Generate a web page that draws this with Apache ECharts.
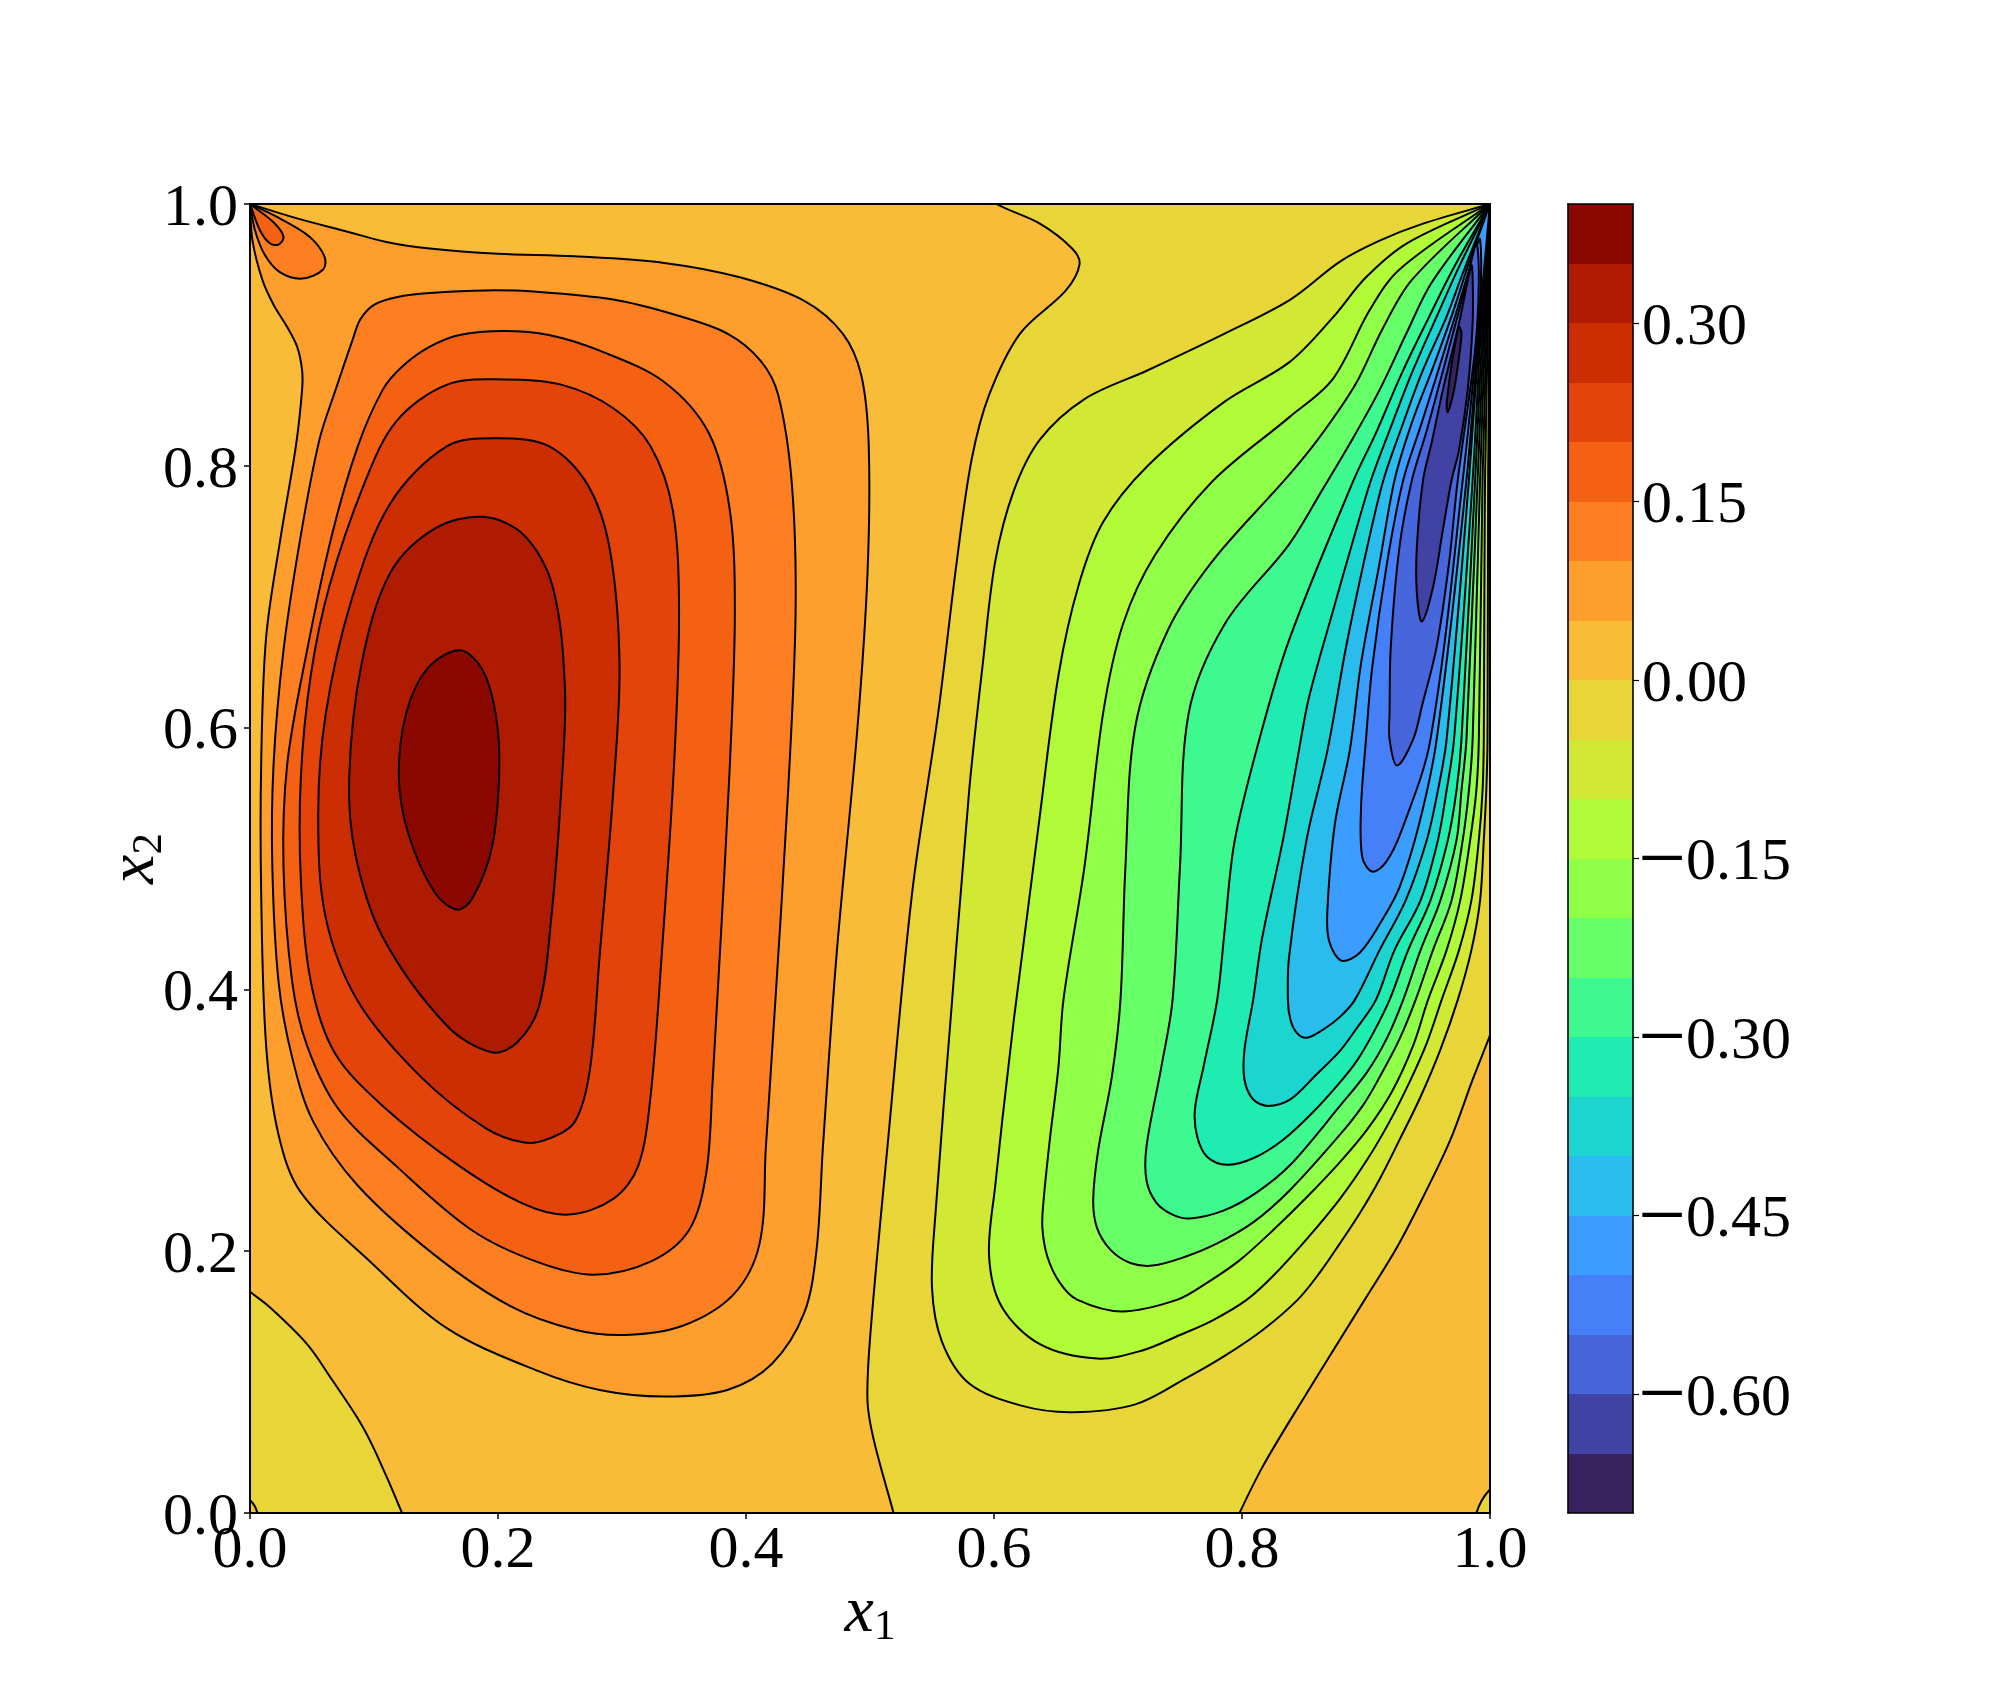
<!DOCTYPE html>
<html>
<head>
<meta charset="utf-8">
<style>html,body{margin:0;padding:0;background:#fff}#c{width:2000px;height:1700px}</style>
<script src="https://cdn.jsdelivr.net/npm/echarts@6/dist/echarts.min.js"></script>
</head>
<body>
<div id="c"></div>
<script>
// colour bar
const bandLows = [-0.70,-0.65,-0.60,-0.55,-0.50,-0.45,-0.40,-0.35,-0.30,-0.25,-0.20,-0.15,-0.10,-0.05,0.00,0.05,0.10,0.15,0.20,0.25,0.30,0.35];
const bandColors = ['#372260','#4143a4','#4866db','#4680f9','#3a9dff','#29bcec','#1cd5d0','#1eecb0','#3ef98f','#67ff67','#8fff47','#b0fa37','#d1e835','#e8d537','#f9bc38','#fe9f2d','#fe7f22','#f46113','#e4430a','#cb2e03','#ae1b00','#8b0800'];
const cbarTicks = [-0.60,-0.45,-0.30,-0.15,0.00,0.15,0.30];

// contour lines, read in data units [x1, x2]
const zeroMiddle = [[.590,1.01],[.602,1],[.637,.985],[.663,.966],[.669,.954],[.658,.934],[.621,.901],[.596,.854],[.582,.805],[.570,.727],[.555,.611],[.534,.474],[.514,.279],[.500,.133],[.498,.085],[.503,.056],[.519,0],[.524,-.018]];
const zeroBottomRight = [[.790,-.018],[.798,0],[.817,.036],[.848,.085],[.899,.163],[.925,.203],[.949,.247],[.968,.285],[.986,.331],[.998,.360],[1.012,.394]];
const zeroCornerBR = [[.986,-.01],[.989,0],[.993,.009],[.999,.017],[1.006,.022]];
const zeroBottomLeft = [[-.02,.185],[0,.169],[.015,.158],[.046,.129],[.066,.102],[.089,.069],[.102,.045],[.1226,0],[.13,-.02]];
const zeroCornerBL = [[-.004,.013],[0,.010],[.004,.005],[.006,0],[.007,-.004]];

const p005 = [[0,1],[.038,.989],[.078,.979],[.110,.971],[.145,.966],[.200,.962],[.262,.960],[.334,.955],[.395,.944],[.447,.926],[.478,.901],[.493,.869],[.499,.815],[.498,.718],[.490,.601],[.473,.426],[.462,.279],[.457,.202],[.447,.153],[.421,.114],[.385,.094],[.334,.089],[.282,.094],[.231,.109],[.159,.141],[.097,.192],[.041,.245],[.023,.289],[.013,.357],[.009,.474],[.009,.572],[.013,.669],[.025,.747],[.037,.815],[.042,.858],[.042,.873],[.038,.891],[.030,.906],[.019,.923],[.010,.942],[.002,.972],[0,1]];
const p010Lobe = [[0,1],[.024,.989],[.048,.975],[.060,.960],[.059,.950],[.042,.943],[.024,.948],[.012,.961],[.004,.980],[0,1]];
const p015Lobe = [[0,1],[.019,.986],[.027,.975],[.023,.969],[.016,.970],[.008,.980],[0,1]];
const p010 = [[.145,.932],[.119,.929],[.100,.923],[.089,.912],[.083,.897],[.069,.858],[.056,.820],[.041,.747],[.027,.659],[.019,.572],[.018,.494],[.023,.406],[.034,.348],[.051,.299],[.087,.250],[.149,.197],[.210,.158],[.262,.140],[.303,.136],[.349,.143],[.390,.167],[.411,.206],[.416,.279],[.424,.396],[.434,.552],[.440,.688],[.437,.786],[.426,.854],[.412,.880],[.385,.901],[.344,.915],[.293,.927],[.231,.933],[.190,.934]];
const p015 = [[.145,.891],[.123,.876],[.107,.858],[.087,.815],[.066,.747],[.046,.659],[.030,.572],[.027,.494],[.034,.406],[.046,.357],[.071,.309],[.118,.265],[.179,.216],[.231,.192],[.277,.182],[.323,.192],[.354,.216],[.368,.260],[.373,.328],[.380,.445],[.387,.572],[.391,.688],[.387,.766],[.370,.825],[.334,.864],[.282,.888],[.241,.900],[.205,.903],[.169,.900]];
const p020 = [[.205,.866],[.251,.862],[.293,.844],[.323,.815],[.341,.766],[.346,.688],[.342,.572],[.332,.426],[.323,.318],[.313,.265],[.293,.240],[.257,.228],[.221,.236],[.169,.265],[.107,.311],[.068,.352],[.049,.406],[.041,.484],[.041,.562],[.049,.640],[.064,.708],[.092,.786],[.118,.834],[.159,.862]];
const p025 = [[.200,.821],[.241,.815],[.272,.786],[.290,.737],[.298,.649],[.293,.552],[.282,.426],[.274,.338],[.262,.299],[.241,.286],[.221,.283],[.190,.294],[.138,.333],[.087,.391],[.061,.455],[.055,.533],[.061,.610],[.082,.698],[.113,.771],[.159,.815]];
const p030 = [[.188,.761],[.221,.747],[.244,.708],[.254,.630],[.251,.552],[.243,.455],[.233,.387],[.215,.359],[.195,.352],[.159,.372],[.107,.440],[.085,.503],[.080,.562],[.090,.649],[.113,.718],[.149,.752]];
const p035 = [[.169,.659],[.187,.645],[.198,.611],[.201,.567],[.195,.508],[.179,.469],[.167,.461],[.149,.474],[.128,.518],[.120,.562],[.126,.611],[.143,.645]];

const n005 = [[1,1],[.946,.985],[.911,.972],[.879,.956],[.839,.927],[.786,.901],[.724,.873],[.673,.851],[.637,.820],[.616,.781],[.601,.727],[.591,.649],[.580,.552],[.565,.377],[.553,.231],[.550,.172],[.558,.131],[.580,.099],[.622,.082],[.663,.077],[.714,.083],[.755,.103],[.786,.120],[.817,.140],[.845,.163],[.863,.184],[.879,.206],[.895,.229],[.911,.255],[.927,.285],[.944,.318],[.960,.354],[.974,.392],[.985,.430],[.992,.468],[.995,.514],[.997,.552],[.998,.591],[.9985,.789],[.9996,.927],[1,1]];
const n010 = [[1,1],[.933,.970],[.900,.944],[.873,.913],[.838,.879],[.786,.849],[.724,.800],[.688,.757],[.668,.708],[.652,.640],[.637,.533],[.616,.377],[.601,.250],[.596,.197],[.606,.158],[.637,.129],[.683,.118],[.719,.124],[.750,.136],[.776,.147],[.804,.163],[.825,.181],[.852,.209],[.879,.240],[.901,.270],[.919,.299],[.935,.329],[.949,.359],[.961,.392],[.975,.430],[.985,.468],[.991,.514],[.994,.552],[.995,.591],[.996,.789],[.9988,.927],[1,1]];
const n015 = [[1,1],[.927,.950],[.903,.919],[.873,.866],[.838,.837],[.776,.788],[.730,.732],[.704,.679],[.688,.611],[.673,.494],[.656,.392],[.652,.341],[.645,.285],[.640,.239],[.639,.218],[.643,.196],[.653,.176],[.667,.163],[.703,.154],[.748,.163],[.772,.176],[.798,.193],[.825,.216],[.852,.241],[.879,.268],[.901,.293],[.921,.322],[.938,.357],[.950,.392],[.965,.430],[.976,.468],[.984,.514],[.989,.552],[.991,.591],[.994,.789],[.998,.927],[1,1]];
const n020 = [[1,1],[.937,.942],[.913,.904],[.892,.863],[.865,.825],[.838,.793],[.776,.727],[.740,.674],[.714,.601],[.706,.494],[.702,.392],[.695,.333],[.684,.277],[.680,.239],[.683,.218],[.694,.201],[.710,.191],[.728,.189],[.752,.195],[.780,.206],[.809,.222],[.839,.247],[.879,.289],[.898,.312],[.911,.333],[.927,.362],[.940,.392],[.954,.430],[.969,.468],[.978,.514],[.983,.552],[.986,.591],[.992,.789],[.997,.927],[1,1]];
const n025 = [[1,1],[.953,.940],[.933,.902],[.911,.858],[.887,.817],[.865,.782],[.838,.740],[.786,.679],[.757,.611],[.750,.494],[.744,.392],[.735,.341],[.723,.280],[.723,.254],[.731,.237],[.744,.228],[.758,.225],[.785,.231],[.812,.245],[.839,.266],[.879,.311],[.901,.337],[.917,.363],[.930,.392],[.944,.430],[.960,.468],[.973,.514],[.977,.552],[.981,.591],[.990,.789],[.996,.927],[1,1]];
const n030 = [[1,1],[.970,.950],[.951,.914],[.929,.871],[.908,.825],[.890,.789],[.838,.667],[.814,.591],[.794,.513],[.786,.445],[.780,.392],[.769,.341],[.762,.308],[.764,.287],[.772,.272],[.788,.266],[.809,.271],[.833,.285],[.857,.306],[.879,.329],[.893,.346],[.906,.367],[.919,.392],[.934,.430],[.952,.468],[.966,.514],[.973,.552],[.977,.591],[.988,.789],[.995,.927],[1,1]];
const n035 = [[1,1],[.975,.952],[.957,.914],[.937,.871],[.919,.827],[.904,.789],[.892,.751],[.873,.688],[.854,.623],[.846,.583],[.833,.514],[.816,.438],[.809,.392],[.802,.354],[.802,.331],[.809,.316],[.821,.311],[.839,.316],[.860,.335],[.879,.353],[.893,.371],[.908,.392],[.923,.430],[.944,.468],[.958,.514],[.965,.552],[.971,.591],[.986,.789],[.994,.927],[1,1]];
const n040 = [[1,1],[.978,.947],[.965,.914],[.945,.871],[.929,.830],[.914,.789],[.901,.738],[.884,.662],[.869,.583],[.852,.514],[.838,.425],[.837,.392],[.839,.377],[.844,.367],[.852,.363],[.865,.369],[.879,.379],[.891,.392],[.911,.430],[.932,.468],[.949,.514],[.958,.552],[.965,.591],[.983,.789],[.9935,.927],[1,1]];
const n045 = [[1,1],[.983,.955],[.970,.917],[.954,.875],[.937,.833],[.923,.789],[.911,.726],[.896,.649],[.887,.583],[.875,.527],[.869,.463],[.870,.438],[.880,.422],[.895,.428],[.913,.453],[.927,.478],[.943,.527],[.957,.591],[.981,.789],[.993,.927],[1,1]];
const n050 = [[.992,.973],[.987,.961],[.975,.924],[.959,.875],[.945,.833],[.930,.789],[.917,.726],[.905,.646],[.900,.591],[.896,.539],[.897,.501],[.905,.490],[.916,.497],[.929,.522],[.952,.591],[.978,.789],[.992,.927]];
const n055 = [[.989,.969],[.981,.940],[.965,.883],[.949,.827],[.937,.789],[.927,.738],[.920,.662],[.919,.611],[.919,.591],[.925,.571],[.938,.591],[.945,.616],[.957,.662],[.967,.726],[.974,.789],[.988,.889],[.991,.942]];
const n060 = [[.985,.953],[.975,.909],[.962,.858],[.953,.818],[.946,.789],[.941,.738],[.941,.703],[.945,.681],[.954,.707],[.962,.751],[.969,.789],[.975,.812],[.982,.858],[.986,.909],[.986,.944]];
const n065 = [[.975,.906],[.970,.883],[.966,.856],[.965,.845],[.966,.841],[.971,.858],[.975,.883],[.977,.901]];

// the closing corners lie outside the axes and are clipped away
const regions = [
  {low:-0.05, parts:[[zeroMiddle],[zeroBottomRight],[[[1.05,.394]]],[[[1.05,1.05]]],[[[.59,1.05]]]]},
  {low:-0.05, parts:[[zeroCornerBR],[[[1.05,.022]]],[[[1.05,-.05]]],[[[.986,-.05]]]]},
  {low:-0.05, parts:[[zeroBottomLeft],[[[.13,-.05]]],[[[-.05,-.05]]],[[[-.05,.185]]]]},
  {low:0.00, parts:[[zeroCornerBL],[[[.007,-.05]]],[[[-.05,-.05]]],[[[-.05,.013]]]]},
  {low:0.05, parts:[[p005]]},
  {low:0.10, parts:[[p010Lobe]]},
  {low:0.15, parts:[[p015Lobe]]},
  {low:0.10, loop:true, parts:[[p010]]},
  {low:0.15, loop:true, parts:[[p015]]},
  {low:0.20, loop:true, parts:[[p020]]},
  {low:0.25, loop:true, parts:[[p025]]},
  {low:0.30, loop:true, parts:[[p030]]},
  {low:0.35, loop:true, parts:[[p035]]},
  {low:-0.10, parts:[[n005]]},
  {low:-0.15, parts:[[n010]]},
  {low:-0.20, parts:[[n015]]},
  {low:-0.25, parts:[[n020]]},
  {low:-0.30, parts:[[n025]]},
  {low:-0.35, parts:[[n030]]},
  {low:-0.40, parts:[[n035]]},
  {low:-0.45, parts:[[n040]]},
  {low:-0.50, parts:[[n045]]},
  {low:-0.55, loop:true, parts:[[n050]]},
  {low:-0.60, loop:true, parts:[[n055]]},
  {low:-0.65, loop:true, parts:[[n060]]},
  {low:-0.70, loop:true, parts:[[n065]]}
];

function colorOf(low){
  return bandColors[Math.round((low + 0.70) / 0.05)];
}
function tangent(a, b, c){
  const d0 = Math.hypot(b[0]-a[0], b[1]-a[1]) || 1e-6;
  const d1 = Math.hypot(c[0]-b[0], c[1]-b[1]) || 1e-6;
  return [(c[0]-a[0])/(d0+d1), (c[1]-a[1])/(d0+d1)];
}
function curve(pts, loop, first){
  const n = pts.length;
  const at = i => loop ? pts[(i+n)%n] : pts[Math.max(0, Math.min(n-1, i))];
  let s = (first ? 'M' : 'L') + pts[0][0].toFixed(2) + ' ' + pts[0][1].toFixed(2);
  const last = loop ? n : n-1;
  for (let i = 0; i < last; i++){
    const p1 = at(i), p2 = at(i+1);
    const d = Math.hypot(p2[0]-p1[0], p2[1]-p1[1]);
    const t1 = tangent(at(i-1), p1, p2), t2 = tangent(p1, p2, at(i+2));
    s += 'C' + (p1[0]+t1[0]*d/3).toFixed(2) + ' ' + (p1[1]+t1[1]*d/3).toFixed(2) + ' ' +
         (p2[0]-t2[0]*d/3).toFixed(2) + ' ' + (p2[1]-t2[1]*d/3).toFixed(2) + ' ' +
         p2[0].toFixed(2) + ' ' + p2[1].toFixed(2);
  }
  return s;
}
function renderRegion(params, api){
  const r = regions[api.value(2)];
  let d = '';
  r.parts.forEach((part, k) => {
    const pts = part[0].map(p => api.coord(p));
    d += curve(pts, !!r.loop, k === 0);
  });
  d += 'Z';
  return {type:'path', shape:{pathData:d}, style:{fill:colorOf(r.low), stroke:'#000', lineWidth:2, lineJoin:'round'}};
}
function renderBand(params, api){
  const lo = api.value(1), i = api.value(2);
  const a = api.coord([0, lo]), b = api.coord([1, lo + 0.05]);
  const top = Math.round(b[1]), bottom = Math.round(a[1]);
  return {type:'rect', shape:{x:a[0], y:top, width:b[0]-a[0], height:bottom-top}, style:{fill:bandColors[i]}};
}

const font = 'Liberation Serif';
const labelSize = 60;
const nameRich = {
  a:{fontFamily:font, fontStyle:'italic', fontSize:66, lineHeight:70, color:'#000'},
  b:{fontFamily:font, fontSize:43, lineHeight:40, verticalAlign:'bottom', color:'#000'}
};
const line = {show:true, onZero:false, lineStyle:{color:'#000', width:2}};
const cline = {show:true, onZero:false, lineStyle:{color:'#000', width:1.6}};
const off = {splitLine:{show:false}, axisTick:{show:false}, axisLabel:{show:false}};

const option = {
  animation:false,
  backgroundColor:'#fff',
  tooltip:{show:false},
  grid:[
    {left:250, top:204, width:1240, height:1309, show:true, backgroundColor:'#f9bc38', borderWidth:0},
    {left:1568, top:204, width:65, height:1309}
  ],
  xAxis:[
    {type:'value', gridIndex:0, min:0, max:1, interval:0.2, z:10, position:'bottom', axisLine:line,
     splitLine:{show:false},
     axisTick:{show:true, length:6, lineStyle:{color:'#000', width:1.5}},
     axisLabel:{show:true, fontFamily:font, fontSize:labelSize, color:'#000', margin:8, hideOverlap:false, showMinLabel:true, showMaxLabel:true, formatter:v=>v.toFixed(1)},
     name:'{a|x}{b|1}', nameLocation:'middle', nameGap:66, nameMoveOverlap:false, nameTextStyle:{rich:nameRich}},
    {type:'value', gridIndex:0, min:0, max:1, z:10, position:'top', axisLine:line, ...off},
    {type:'value', gridIndex:1, min:0, max:1, z:10, position:'bottom', axisLine:cline, ...off},
    {type:'value', gridIndex:1, min:0, max:1, z:10, position:'top', axisLine:cline, ...off}
  ],
  yAxis:[
    {type:'value', gridIndex:0, min:0, max:1, interval:0.2, z:10, position:'left', axisLine:line,
     splitLine:{show:false},
     axisTick:{show:true, length:6, lineStyle:{color:'#000', width:1.5}},
     axisLabel:{show:true, fontFamily:font, fontSize:labelSize, color:'#000', margin:12, verticalAlign:'top', lineHeight:10, hideOverlap:false, showMinLabel:true, showMaxLabel:true, formatter:v=>v.toFixed(1)},
     name:'{a|x}{b|2}', nameLocation:'middle', nameGap:79, nameMoveOverlap:false, nameTextStyle:{rich:nameRich}},
    {type:'value', gridIndex:0, min:0, max:1, z:10, position:'right', axisLine:line, ...off},
    {type:'value', gridIndex:1, min:-0.7, max:0.4, z:10, position:'right', axisLine:cline,
     splitLine:{show:false},
     axisTick:{show:true, length:6, customValues:cbarTicks, lineStyle:{color:'#000', width:1.2}},
     axisLabel:{show:true, color:'#000', margin:5, verticalAlign:'top', lineHeight:10, hideOverlap:false, customValues:cbarTicks,
       rich:{m:{fontFamily:font, fontSize:85, lineHeight:10, color:'#000'},
             d:{fontFamily:font, fontSize:labelSize, lineHeight:10, color:'#000'},
             p:{fontFamily:font, fontSize:labelSize, lineHeight:10, color:'#000', padding:[0,0,0,4]}},
       formatter:v=>v < -1e-9 ? '{m|\u2212}{d|' + Math.abs(v).toFixed(2) + '}' : '{p|' + Math.abs(v).toFixed(2) + '}'}},
    {type:'value', gridIndex:1, min:-0.7, max:0.4, z:10, position:'left', axisLine:cline, ...off}
  ],
  series:[
    {type:'custom', xAxisIndex:0, yAxisIndex:0, clip:true, silent:true, z:2, renderItem:renderRegion,
     encode:{x:0, y:1}, data:regions.map((r,i)=>[0.5, 0.5, i])},
    {type:'custom', xAxisIndex:2, yAxisIndex:2, silent:true, z:2, renderItem:renderBand,
     encode:{x:0, y:1}, data:bandLows.map((lo,i)=>[0.5, lo, i])}
  ]
};
const chart = echarts.init(document.getElementById('c'), null, {renderer:'canvas', width:2000, height:1700});
chart.setOption(option);
</script>
</body>
</html>
